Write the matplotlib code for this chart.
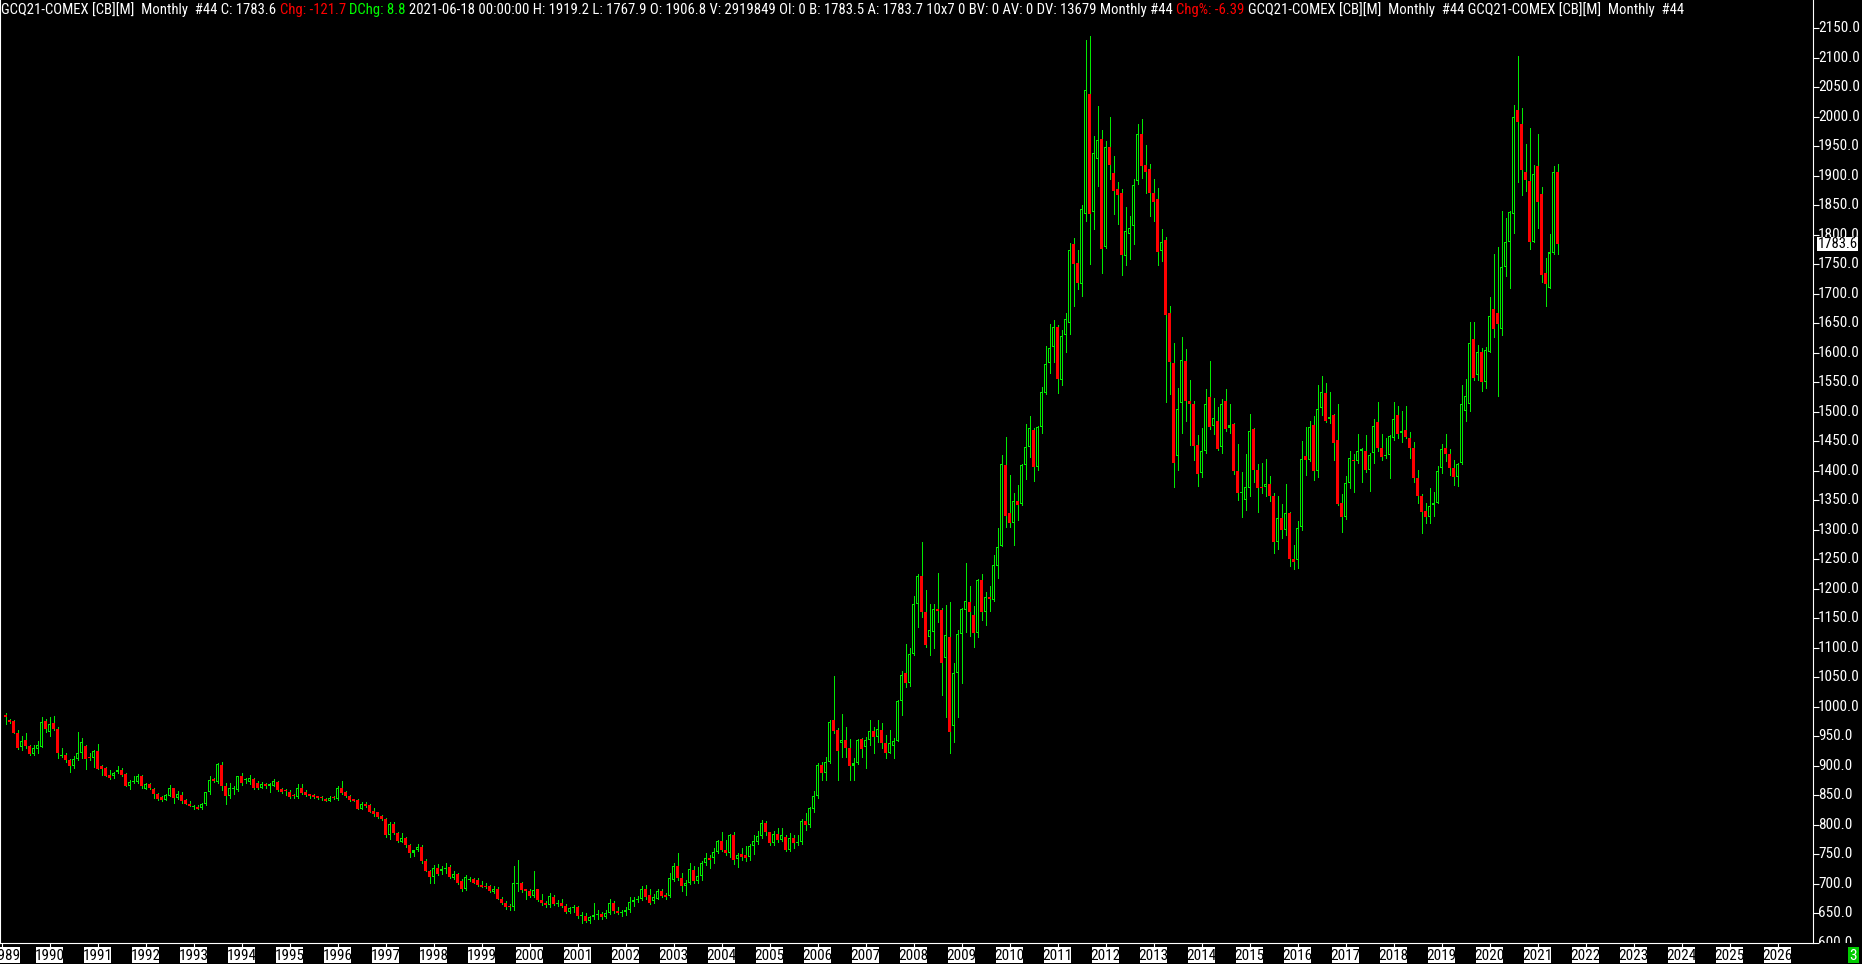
import numpy as np
import matplotlib
matplotlib.use("Agg")
import matplotlib.pyplot as plt
from matplotlib import font_manager as fm
from matplotlib.transforms import Bbox
from matplotlib.patches import Rectangle

# ---------------- data (monthly, Feb 1989 .. Jun 2021) ----------------
start_year, start_month = 1989, 2

opens = [
    986, 978, 976, 956, 932, 944, 934, 920, 928, 932, 976,                     # 1989
    958, 972, 962, 917, 919, 910, 900, 911, 921, 934, 914, 913,                # 1990
    925, 900, 896, 884, 883, 889, 893, 886, 865, 872, 873, 883,                # 1991
    861, 869, 861, 853, 847, 842, 849, 862, 845, 850, 842, 836,                # 1992
    830, 831, 828, 835, 855, 877, 873, 901, 866, 848, 861, 859,                # 1993
    883, 876, 873, 878, 870, 863, 869, 865, 866, 872, 861, 858,                # 1994
    856, 850, 847, 862, 856, 852, 850, 848, 846, 844, 841, 847,                # 1995
    844, 863, 856, 849, 843, 842, 827, 836, 834, 824, 821, 815,                # 1996
    810, 782, 802, 786, 771, 777, 766, 753, 757, 762, 738, 721,                # 1997
    712, 727, 722, 725, 728, 710, 717, 705, 691, 706, 708, 707,                # 1998
    698, 696, 696, 686, 692, 675, 668, 661, 660, 700, 701, 691,                # 1999
    688, 679, 691, 672, 668, 664, 678, 666, 667, 663, 653, 659,                # 2000
    660, 646, 646, 637, 643, 647, 649, 644, 650, 667, 654, 651,                # 2001
    652, 655, 669, 673, 674, 692, 681, 670, 675, 688, 681, 680,                # 2002
    706, 730, 710, 697, 701, 723, 705, 714, 735, 743, 743, 754,                # 2003
    773, 758, 753, 783, 742, 751, 749, 746, 764, 771, 781, 803,                # 2004
    787, 769, 784, 774, 780, 757, 778, 769, 771, 807, 800, 827,                # 2005
    849, 901, 887, 907, 978, 961, 938, 944, 931, 900, 904, 945,                # 2006
    932, 944, 959, 949, 961, 938, 922, 934, 942, 1009, 1058, 1041,             # 2007
    1089, 1175, 1222, 1161, 1119, 1127, 1165, 1164, 1082, 1118, 968, 1057,     # 2008
    1123, 1164, 1178, 1156, 1125, 1215, 1160, 1186, 1181, 1238, 1273, 1410,    # 2009
    1328, 1311, 1349, 1343, 1409, 1441, 1469, 1407, 1474, 1532, 1582, 1609,    # 2010
    1643, 1554, 1630, 1650, 1785, 1752, 1717, 1835, 2039, 1838, 1928, 1963,    # 2011
    1780, 1948, 1904, 1877, 1871, 1764, 1801, 1815, 1891, 1971, 1919, 1911,    # 2012
    1871, 1860, 1772, 1792, 1668, 1582, 1425, 1515, 1586, 1519, 1514, 1444,    # 2013
    1396, 1434, 1525, 1476, 1485, 1440, 1519, 1473, 1479, 1399, 1362, 1350,    # 2014
    1371, 1471, 1402, 1371, 1372, 1377, 1358, 1280, 1320, 1300, 1328, 1251,    # 2015
    1248, 1304, 1425, 1418, 1478, 1399, 1506, 1532, 1487, 1495, 1453, 1345,    # 2016
    1321, 1380, 1419, 1417, 1434, 1433, 1402, 1430, 1482, 1438, 1425, 1427,    # 2017
    1456, 1494, 1464, 1469, 1456, 1438, 1388, 1358, 1332, 1322, 1342, 1346,    # 2018
    1405, 1439, 1428, 1404, 1390, 1414, 1501, 1513, 1623, 1563, 1602, 1551,    # 2019
    1602, 1674, 1668, 1641, 1746, 1787, 1836, 2012, 1988, 1906, 1892, 1788,    # 2020
    1916, 1869, 1735, 1710, 1769, 1906.8,                                      # 2021
]
highs = [
    989, 979, 978, 960, 950, 956, 936, 935, 942, 982, 980,
    982, 984, 965, 931, 922, 912, 917, 957, 947, 936, 922, 927,
    937, 901, 898, 893, 890, 900, 896, 887, 876, 882, 886, 884,
    871, 870, 862, 854, 849, 852, 867, 863, 858, 856, 843, 840,
    834, 834, 837, 856, 883, 879, 905, 907, 870, 870, 865, 883,
    887, 880, 884, 879, 874, 873, 871, 870, 878, 874, 863, 860,
    859, 852, 869, 869, 859, 853, 852, 849, 848, 846, 849, 849,
    865, 874, 857, 850, 844, 843, 838, 839, 835, 828, 822, 817,
    811, 804, 804, 787, 786, 779, 768, 758, 767, 766, 742, 723,
    732, 734, 730, 736, 732, 721, 719, 708, 715, 711, 709, 709,
    705, 702, 698, 696, 694, 678, 671, 665, 731, 740, 703, 692,
    692, 722, 692, 683, 671, 685, 681, 672, 674, 665, 661, 664,
    662, 652, 650, 646, 668, 656, 652, 656, 674, 670, 660, 656,
    660, 678, 677, 680, 697, 698, 691, 683, 692, 692, 684, 718,
    735, 752, 719, 706, 736, 730, 729, 738, 752, 749, 760, 774,
    788, 774, 784, 788, 753, 760, 764, 767, 783, 790, 808, 807,
    788, 790, 795, 794, 782, 786, 782, 782, 809, 820, 831, 858,
    905, 907, 915, 978, 1052, 964, 988, 966, 945, 913, 945, 947,
    948, 978, 966, 978, 973, 952, 961, 947, 1012, 1061, 1106, 1100,
    1188, 1225, 1280, 1198, 1175, 1175, 1226, 1167, 1173, 1178, 1074, 1130,
    1167, 1244, 1205, 1171, 1216, 1225, 1195, 1205, 1257, 1303, 1427, 1458,
    1393, 1363, 1376, 1412, 1479, 1493, 1472, 1476, 1542, 1612, 1648, 1656,
    1647, 1638, 1668, 1786, 1795, 1775, 1851, 2131, 2137, 1968, 2019, 1977,
    1959, 2000, 1934, 1890, 1877, 1847, 1832, 1894, 1988, 1997, 1952, 1920,
    1894, 1880, 1810, 1797, 1680, 1616, 1541, 1626, 1607, 1554, 1519, 1461,
    1472, 1538, 1586, 1523, 1508, 1521, 1538, 1514, 1481, 1445, 1398, 1428,
    1496, 1473, 1411, 1413, 1420, 1392, 1363, 1357, 1343, 1378, 1330, 1275,
    1315, 1451, 1475, 1484, 1493, 1545, 1560, 1548, 1533, 1497, 1513, 1361,
    1392, 1433, 1429, 1463, 1438, 1460, 1431, 1487, 1517, 1463, 1455, 1460,
    1516, 1509, 1502, 1509, 1466, 1448, 1402, 1361, 1345, 1371, 1364, 1408,
    1445, 1463, 1437, 1419, 1414, 1545, 1555, 1653, 1653, 1614, 1608, 1609,
    1694, 1767, 1779, 1841, 1829, 1841, 2020, 2103, 2015, 1954, 1981, 1919,
    1971, 1881, 1761, 1802, 1916, 1919.2,
]
lows = [
    970, 972, 955, 928, 926, 930, 919, 919, 922, 932, 958,
    950, 960, 913, 915, 907, 890, 897, 910, 913, 895, 909, 898,
    894, 884, 882, 877, 880, 887, 883, 865, 860, 871, 870, 863,
    860, 860, 846, 842, 841, 842, 848, 837, 844, 837, 835, 832,
    827, 827, 826, 834, 853, 873, 871, 859, 835, 845, 852, 858,
    867, 870, 869, 860, 861, 862, 862, 856, 865, 858, 854, 850,
    845, 846, 845, 852, 848, 845, 845, 844, 842, 840, 841, 843,
    842, 853, 847, 841, 840, 826, 826, 831, 821, 815, 811, 808,
    779, 776, 784, 771, 770, 763, 746, 747, 756, 736, 721, 702,
    702, 715, 717, 719, 709, 708, 699, 688, 690, 704, 701, 696,
    694, 693, 686, 685, 674, 666, 657, 656, 655, 687, 686, 674,
    678, 677, 670, 664, 660, 661, 664, 662, 660, 651, 650, 652,
    642, 634, 635, 633, 640, 640, 640, 642, 648, 651, 648, 646,
    647, 652, 663, 669, 673, 675, 665, 667, 674, 677, 675, 678,
    704, 706, 687, 681, 700, 702, 702, 706, 732, 726, 736, 753,
    756, 749, 746, 734, 728, 740, 739, 741, 750, 768, 778, 783,
    766, 766, 770, 772, 756, 755, 760, 765, 768, 792, 796, 822,
    846, 876, 876, 904, 955, 876, 915, 915, 876, 876, 903, 915,
    896, 935, 921, 941, 930, 914, 921, 913, 942, 986, 1034, 1035,
    1088, 1136, 1152, 1102, 1088, 1099, 1144, 1020, 983, 922, 941, 982,
    1041, 1127, 1120, 1102, 1118, 1147, 1139, 1162, 1180, 1219, 1273, 1305,
    1305, 1274, 1316, 1342, 1386, 1424, 1382, 1401, 1464, 1530, 1565, 1585,
    1532, 1546, 1602, 1632, 1680, 1708, 1696, 1823, 1750, 1810, 1883, 1735,
    1777, 1895, 1836, 1818, 1732, 1748, 1759, 1785, 1886, 1897, 1871, 1832,
    1823, 1748, 1755, 1516, 1531, 1372, 1401, 1464, 1484, 1444, 1419, 1374,
    1390, 1430, 1470, 1462, 1436, 1431, 1468, 1464, 1395, 1351, 1322, 1333,
    1357, 1381, 1331, 1362, 1357, 1348, 1260, 1268, 1286, 1291, 1239, 1233,
    1236, 1300, 1393, 1417, 1384, 1390, 1494, 1482, 1481, 1418, 1342, 1296,
    1318, 1370, 1364, 1414, 1381, 1398, 1365, 1414, 1434, 1418, 1422, 1388,
    1452, 1455, 1449, 1455, 1421, 1381, 1345, 1294, 1311, 1312, 1323, 1345,
    1396, 1417, 1393, 1376, 1374, 1412, 1485, 1501, 1554, 1554, 1535, 1541,
    1601, 1627, 1526, 1630, 1731, 1710, 1803, 1890, 1867, 1875, 1776, 1788,
    1811, 1720, 1680, 1710, 1768, 1767.9,
]
closes = [
    982, 975, 956, 930, 942, 934, 920, 931, 935, 974, 962,
    971, 962, 921, 918, 909, 900, 911, 921, 940, 911, 913, 925,
    895, 895, 883, 880, 888, 893, 884, 866, 873, 873, 883, 865,
    869, 863, 852, 843, 842, 850, 863, 846, 852, 840, 836, 832,
    831, 827, 836, 855, 876, 875, 903, 866, 848, 862, 862, 883,
    871, 877, 880, 862, 863, 869, 865, 869, 875, 859, 856, 857,
    847, 848, 862, 854, 850, 848, 847, 846, 845, 841, 846, 846,
    862, 854, 848, 842, 841, 827, 835, 832, 822, 819, 813, 809,
    782, 802, 786, 772, 777, 765, 753, 757, 762, 738, 722, 712,
    726, 717, 725, 727, 712, 716, 701, 691, 711, 707, 702, 698,
    695, 695, 687, 692, 674, 668, 661, 660, 701, 702, 690, 687,
    679, 690, 673, 668, 664, 679, 666, 667, 663, 653, 659, 660,
    646, 646, 637, 643, 647, 649, 644, 650, 667, 654, 651, 652,
    655, 669, 673, 675, 692, 678, 668, 678, 688, 680, 678, 709,
    730, 710, 697, 702, 725, 705, 713, 736, 743, 740, 754, 773,
    757, 753, 783, 741, 749, 745, 744, 764, 773, 781, 803, 788,
    769, 784, 775, 782, 757, 778, 769, 771, 807, 800, 829, 849,
    901, 887, 907, 975, 959, 925, 944, 931, 900, 904, 944, 928,
    944, 959, 948, 962, 938, 922, 938, 942, 1010, 1054, 1041, 1090,
    1174, 1222, 1161, 1105, 1130, 1165, 1162, 1075, 1122, 958, 1057, 1123,
    1165, 1179, 1160, 1125, 1215, 1160, 1186, 1183, 1240, 1271, 1412, 1323,
    1311, 1349, 1342, 1410, 1441, 1472, 1407, 1474, 1533, 1581, 1608, 1643,
    1556, 1629, 1658, 1774, 1751, 1718, 1844, 2046, 1835, 1939, 1960, 1776,
    1948, 1918, 1875, 1867, 1765, 1807, 1812, 1885, 1971, 1916, 1907, 1870,
    1855, 1770, 1788, 1664, 1584, 1414, 1505, 1587, 1518, 1514, 1442, 1395,
    1433, 1514, 1474, 1489, 1437, 1514, 1471, 1477, 1399, 1362, 1363, 1373,
    1467, 1401, 1370, 1370, 1377, 1357, 1280, 1320, 1300, 1328, 1251, 1245,
    1303, 1420, 1419, 1475, 1399, 1504, 1533, 1484, 1491, 1447, 1343, 1321,
    1380, 1422, 1417, 1434, 1437, 1402, 1427, 1476, 1438, 1424, 1427, 1459,
    1488, 1462, 1467, 1457, 1438, 1387, 1358, 1331, 1321, 1341, 1346, 1400,
    1437, 1428, 1404, 1390, 1412, 1514, 1526, 1617, 1558, 1602, 1551, 1604,
    1663, 1640, 1649, 1746, 1788, 1839, 1999, 1992, 1909, 1893, 1788, 1903,
    1855, 1732, 1716, 1770, 1906, 1783.6,
]
year_labels = list(range(1989, 2027))
price_ticks = list(range(600, 2151, 50))
last_price = 1783.6

header_parts = [
    ("GCQ21-COMEX [CB][M]  Monthly  #44 C: 1783.6 ", "white"),
    ("Chg: -121.7", "red"),
    (" DChg: 8.8", "green"),
    (" 2021-06-18 00:00:00 H: 1919.2 L: 1767.9 O: 1906.8 V: 2919849 OI: 0 B: 1783.5 "
     "A: 1783.7 10x7 0 BV: 0 AV: 0 DV: 13679 Monthly #44 ", "white"),
    ("Chg%: -6.39", "red"),
    (" GCQ21-COMEX [CB][M]  Monthly  #44 GCQ21-COMEX [CB][M]  Monthly  #44", "white"),
]

assert len(opens) == len(highs) == len(lows) == len(closes), (len(opens), len(highs), len(lows), len(closes))

# ---------------- styling ----------------
COL = {"white": "#ffffff", "red": "#ff0000", "green": "#00ff00"}
CANDLE_GREEN = "#00ea00"
CANDLE_RED = "#ff0000"


def pick_font(names):
    for nm in names:
        try:
            fm.findfont(fm.FontProperties(family=nm), fallback_to_default=False)
            return nm
        except Exception:
            pass
    return "DejaVu Sans"


FONT = pick_font(["Liberation Sans Narrow", "Arial Narrow", "Roboto Condensed", "Liberation Sans", "DejaVu Sans"])

W, H = 1862, 964
AX_RIGHT = 1813      # px, right axis line
AX_BOTTOM = 943      # px from top, bottom axis line
PX_PER_MONTH = 4.0
PX_PER_DOLLAR = 0.59
Y_REF_PX, Y_REF_VAL = 28.3, 2150.0

fig = plt.figure(figsize=(W / 100, H / 100), dpi=100, facecolor="black")
ax = fig.add_axes([0, (H - AX_BOTTOM) / H, AX_RIGHT / W, AX_BOTTOM / H])
ax.set_facecolor("black")

o = np.asarray(opens, float)
h = np.asarray(highs, float)
l = np.asarray(lows, float)
c = np.asarray(closes, float)
n = len(o)
idx = np.arange(n)

x0 = -5.5 / PX_PER_MONTH
ax.set_xlim(x0, x0 + AX_RIGHT / PX_PER_MONTH)
ymax = Y_REF_VAL + Y_REF_PX / PX_PER_DOLLAR
ymin = Y_REF_VAL - (AX_BOTTOM - Y_REF_PX) / PX_PER_DOLLAR
ax.set_ylim(ymin, ymax)

one_px = 1.0 / PX_PER_DOLLAR
up = c >= o
bot = np.minimum(o, c)
top = np.maximum(o, c)
hgt = np.maximum(top - bot, one_px)

ax.vlines(idx, l, h, colors=CANDLE_GREEN, linewidth=0.72, antialiased=False, zorder=2)
ax.bar(idx[~up], hgt[~up], bottom=bot[~up], width=0.75, color=CANDLE_RED,
       linewidth=0, antialiased=False, zorder=3)
ax.bar(idx[up], hgt[up], bottom=bot[up], width=0.75, color=CANDLE_GREEN,
       linewidth=0, antialiased=False, zorder=3)
inner = up & ((top - bot) > 2.5 * one_px)
ax.bar(idx[inner], (top - bot - 2 * one_px)[inner], bottom=(bot + one_px)[inner], width=0.25,
       color="black", linewidth=0, antialiased=False, zorder=4)

# spines
for side in ("left", "bottom", "right"):
    ax.spines[side].set_color("white")
    ax.spines[side].set_linewidth(0.8)
ax.spines["top"].set_visible(False)

# x ticks (January of each year)
tick_idx = [(y - start_year) * 12 + (1 - start_month) for y in year_labels]
ax.set_xticks(tick_idx)
ax.tick_params(axis="x", length=4, width=0.8, color="white", direction="out",
               labelbottom=False)
# y ticks on right
ax.set_yticks([v for v in price_ticks if ymin <= v <= ymax])
ax.yaxis.set_ticks_position("right")
ax.tick_params(axis="y", length=4, width=0.8, color="white", direction="out",
               labelright=False, labelleft=False)

# year label boxes
for yr, ti in zip(year_labels, tick_idx):
    xp = max((ti - x0) * PX_PER_MONTH, 6.0)
    bw, bh = 27, 16
    fig.add_artist(Rectangle(((xp - bw / 2) / W, (H - 963) / H), bw / W, bh / H,
                             transform=fig.transFigure, facecolor="white",
                             edgecolor="none", zorder=5))
    fig.text(xp / W, 1 - 955.5 / H, str(yr), ha="center", va="center", color="black",
             fontsize=11, family=FONT, zorder=6)

# right price labels (clipped to the plot height)
clip = Bbox.from_extents(AX_RIGHT, H - AX_BOTTOM, W, H)
for v in price_ticks:
    yp = Y_REF_PX + (Y_REF_VAL - v) * PX_PER_DOLLAR
    t = fig.text((AX_RIGHT + 5) / W, 1 - yp / H, f"{v:.1f}", ha="left", va="center",
                 color="white", fontsize=11, family=FONT, zorder=5)
    t.set_clip_on(True)
    t.set_clip_box(clip)

# last price tag
yp = Y_REF_PX + (Y_REF_VAL - last_price) * PX_PER_DOLLAR
fig.add_artist(Rectangle(((AX_RIGHT + 4) / W, 1 - (yp + 7) / H), 41 / W, 14 / H,
                         transform=fig.transFigure, facecolor="white", edgecolor="none",
                         zorder=7))
fig.text((AX_RIGHT + 24.5) / W, 1 - yp / H, f"{last_price:.1f}", ha="center", va="center",
         color="black", fontsize=10.5, family=FONT, zorder=8)

# little green box bottom-right
fig.add_artist(Rectangle((1848 / W, (H - 963) / H), 11 / W, 16 / H, transform=fig.transFigure,
                         facecolor="#00cc00", edgecolor="none", zorder=5))
fig.text(1853.5 / W, 1 - 955.5 / H, "3", ha="center", va="center", color="white",
         fontsize=11, family=FONT, zorder=6)

# header line with coloured segments
renderer = fig.canvas.get_renderer()


def text_w(s, size):
    t = fig.text(0, 0, s, fontsize=size, family=FONT)
    w = t.get_window_extent(renderer).width
    t.remove()
    return w


full = "".join(s for s, _ in header_parts)
base = 10.0
bar2 = text_w("||", base)
wfull = text_w("|" + full + "|", base) - bar2
hsize = base * 1676.0 / wfull
bar2 = text_w("||", hsize)
prefix = ""
for s, col in header_parts:
    lead = len(s) - len(s.lstrip(" "))
    pre = prefix + s[:lead]
    xs = 0.0 if not pre else text_w("|" + pre + "|", hsize) - bar2
    fig.text((xs + 1) / W, 1 - 10 / H, s.strip(" "), ha="left", va="center",
             color=COL[col], fontsize=hsize, family=FONT, zorder=9)
    prefix += s

fig.savefig("out.png", dpi=100, facecolor="black")
